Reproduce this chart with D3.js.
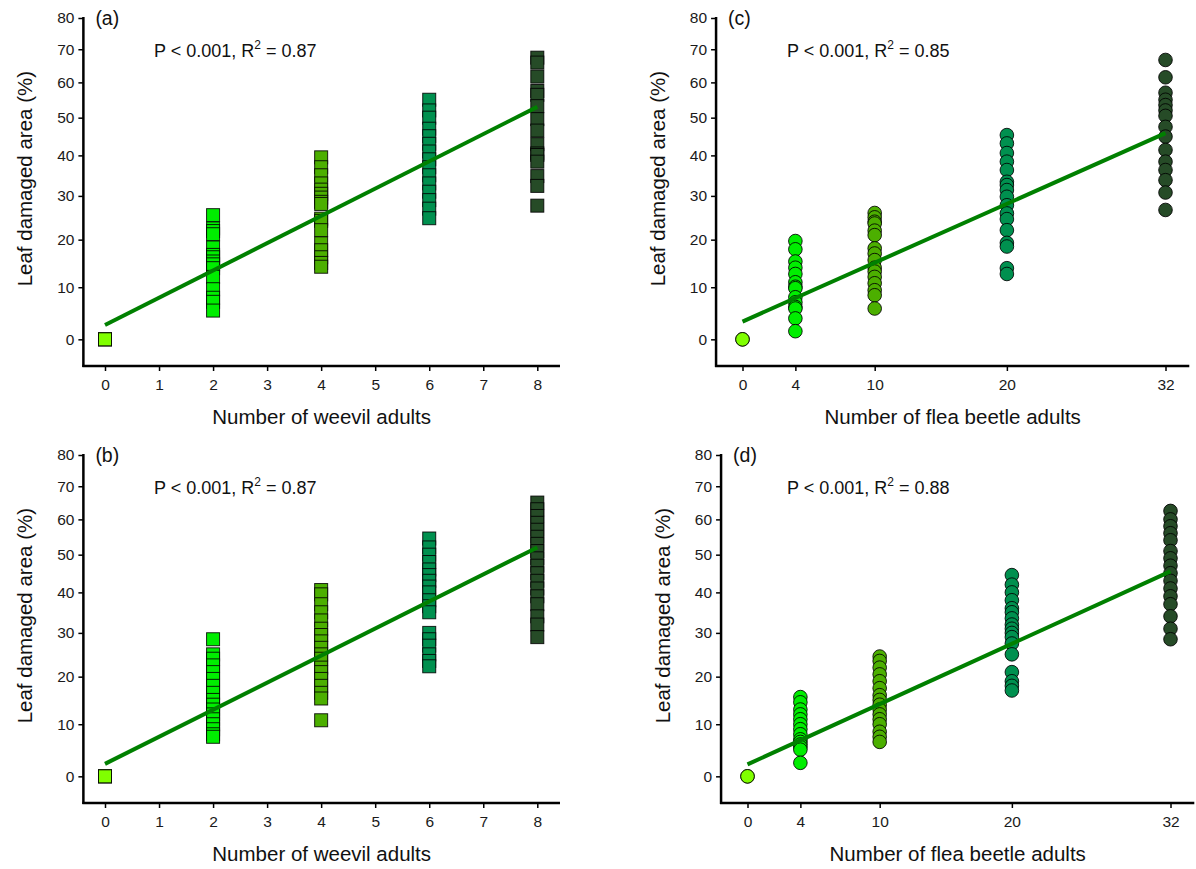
<!DOCTYPE html>
<html>
<head>
<meta charset="utf-8">
<script src="https://cdn.jsdelivr.net/npm/d3@7"></script>
<style>
  body { margin: 0; background: #fff; }
  svg { font-family: "Liberation Sans", Arial, sans-serif; }
</style>
</head>
<body>
<div id="chart"></div>
<script>
// width and height of the whole figure
let svg_width = 1196;
let svg_height = 869;

// ---------------- data ----------------
let weevil_x = [0, 2, 4, 6, 8];
let flea_x = [0, 4, 10, 20, 32];
let y_ticks = [0, 10, 20, 30, 40, 50, 60, 70, 80];

// (a) weevil, leaf damaged area (%)
let a0 = [0, 0, 0];
let a2 = [25.5, 22.5, 21.9, 21.2, 18.3, 16.7, 16.2, 15.3, 14.7, 13.9, 12.1, 9.6, 7.9, 7.1, 5.4];
let a4 = [39.5, 37, 35, 33, 31.5, 30.5, 29.6, 28.6, 28.1, 24.7, 24.2, 22.1, 19.2, 17.7, 16.2, 15.0, 14.2];
let a6 = [55, 52, 50, 47, 45, 43, 41, 39, 37, 35, 33, 31, 29, 27, 24.8];
let a8 = [67.4, 65.9, 61.7, 57.5, 56.4, 53.2, 49.6, 46.5, 42.9, 40.5, 40.1, 38.4, 34.8, 32.4, 27.7];
let a_fit = [2.65, 53.0];

// (b) weevil
let b0 = [0, 0, 0];
let b2 = [28.5, 25, 24, 22.5, 21, 19.5, 18, 16.5, 15, 14, 13, 12, 11, 10, 9, 8, 7.5];
let b4 = [40.6, 39.5, 37, 35, 33, 31, 29.5, 28, 26.5, 25, 24, 22, 21, 19.5, 18, 16.5, 15.3, 10.8];
let b6 = [54.5, 52, 50, 48, 46, 44.5, 43, 41.5, 40, 38, 36.5, 35, 30, 28.5, 27, 25, 23.5, 22.3];
let b8 = [65, 63, 61, 59, 57, 55, 53, 51, 49, 47, 45, 43, 41, 39, 37, 34, 32, 29];
let b_fit = [2.3, 52];

// (c) flea beetle
let c0 = [0, 0];
let c4 = [19.7, 17.9, 15.3, 14, 12.7, 11, 10.1, 9.8, 8, 7, 6.1, 5.8, 3.9, 1.5];
let c10 = [26, 25, 24, 23.6, 22, 21, 18.1, 17, 15.6, 14, 13.2, 12.1, 10.8, 9.4, 8.4, 5.8];
let c20 = [45.3, 43.1, 40.6, 38.4, 36.3, 33.4, 32.6, 31.4, 29.8, 27.8, 25.9, 24.6, 22.1, 19.3, 18.5, 13.9, 12.7];
let c32 = [66.7, 61.5, 57, 55, 53.5, 52, 50.5, 47.5, 44.9, 41.4, 38.4, 36.3, 33.8, 30.8, 26.7];
let c_fit = [3.3, 45.8];

// (d) flea beetle
let d0 = [0, 0];
let d4 = [15.6, 14.5, 13, 12, 11, 10, 9, 8, 7, 6.5, 6, 5.5, 5, 2.5];
let d10 = [24.5, 23.5, 22, 20.5, 19, 17.5, 16, 15, 14, 13, 12, 11, 10, 8.5, 7.5, 6.5];
let d20 = [44.5, 42, 40, 38, 36, 35, 33.5, 32, 31, 30, 29, 27.5, 25, 21, 19, 18, 17];
let d32 = [62.5, 60, 58, 56, 54, 51, 49, 47, 45, 43, 41, 39, 37, 34, 31, 28.5];
let d_fit = [2.2, 45.5];

let group_colors = ['#80ff00', '#00ee00', '#4caf00', '#00904f', '#264b27'];

// ---------------- panels ----------------
let panels = [
  { tag: '(a)', stat: '0.87', xs: weevil_x, groups: [a0, a2, a4, a6, a8], fit: a_fit,
    shape: 'square', xlabel: 'Number of weevil adults',
    left: 83, top: 18, x0: 105, x1: 537.3, xmin: -0.4, xmax: 8.42, xticks: d3.range(0, 9), statX: 154 },
  { tag: '(b)', stat: '0.87', xs: weevil_x, groups: [b0, b2, b4, b6, b8], fit: b_fit,
    shape: 'square', xlabel: 'Number of weevil adults',
    left: 83, top: 455, x0: 105, x1: 537.3, xmin: -0.4, xmax: 8.42, xticks: d3.range(0, 9), statX: 154 },
  { tag: '(c)', stat: '0.85', xs: flea_x, groups: [c0, c4, c10, c20, c32], fit: c_fit,
    shape: 'circle', xlabel: 'Number of flea beetle adults',
    left: 716, top: 18, x0: 742.5, x1: 1165.5, xmin: -2, xmax: 33.8, xticks: flea_x, statX: 787 },
  { tag: '(d)', stat: '0.88', xs: flea_x, groups: [d0, d4, d10, d20, d32], fit: d_fit,
    shape: 'circle', xlabel: 'Number of flea beetle adults',
    left: 721, top: 455, x0: 747.5, x1: 1170.5, xmin: -2, xmax: 33.8, xticks: flea_x, statX: 787 }
];

let svg = d3.select('#chart')
            .append('svg')
            .attr('width', svg_width)
            .attr('height', svg_height);

function drawPanel(p) {
  let g = svg.append('g');
  let bottom = p.top + 348;

  // y is drawn on a log(y + 100) scale, like the original
  let y_scale = d3.scaleSymlog()
                  .constant(100)
                  .domain([-5, 80])
                  .range([bottom, p.top]);

  let x_scale = d3.scaleLinear()
                  .domain([p.xs[0], p.xs[p.xs.length - 1]])
                  .range([p.x0, p.x1]);
  let x_left = x_scale(p.xmin);
  let x_right = x_scale(p.xmax);

  // axes (SigmaPlot style, lines with outward ticks)
  let yAxis = d3.axisLeft(y_scale).tickValues(y_ticks).tickSize(5).tickPadding(4).tickSizeOuter(0);
  let xAxis = d3.axisBottom(x_scale).tickValues(p.xticks).tickSize(5).tickPadding(8).tickSizeOuter(0);

  let ya = g.append('g').attr('transform', 'translate(' + x_left + ',0)').call(yAxis);
  ya.select('.domain').remove();
  ya.append('line')
    .attr('x1', 0).attr('x2', 0)
    .attr('y1', p.top - 1).attr('y2', bottom + 1)
    .attr('stroke', '#000').attr('stroke-width', 2.5);

  let xa = g.append('g').attr('transform', 'translate(0,' + bottom + ')').call(xAxis);
  xa.select('.domain').remove();
  xa.append('line')
    .attr('x1', x_left - 1).attr('x2', x_right)
    .attr('y1', 0).attr('y2', 0)
    .attr('stroke', '#000').attr('stroke-width', 2.5);

  g.selectAll('.tick line').attr('stroke', '#000').attr('stroke-width', 1.5);
  g.selectAll('.tick text').attr('font-size', 15.5).attr('fill', '#1a1a1a')
    .attr('font-family', '"Liberation Sans", Arial, sans-serif');

  // data points, each group drawn from high to low value
  p.groups.forEach(function(vals, gi) {
    let xv = p.xs[gi];
    let sel = g.append('g').selectAll('.pt').data(vals).enter();
    if (p.shape === 'square') {
      sel.append('rect')
         .attr('x', x_scale(xv) - 6.5)
         .attr('y', function(d) { return y_scale(d) - 6.5; })
         .attr('width', 13).attr('height', 13)
         .attr('fill', group_colors[gi])
         .attr('stroke', '#000').attr('stroke-opacity', 0.85).attr('stroke-width', 1);
    } else {
      sel.append('circle')
         .attr('cx', x_scale(xv))
         .attr('cy', function(d) { return y_scale(d); })
         .attr('r', 6.8)
         .attr('fill', group_colors[gi])
         .attr('stroke', '#000').attr('stroke-opacity', 0.85).attr('stroke-width', 1);
    }
  });

  // regression line (straight in the transformed space)
  g.append('line')
   .attr('x1', x_scale(p.xs[0])).attr('y1', y_scale(p.fit[0]))
   .attr('x2', x_scale(p.xs[p.xs.length - 1])).attr('y2', y_scale(p.fit[1]))
   .attr('stroke', '#008000').attr('stroke-width', 4);

  // labels
  g.append('text')
   .attr('x', x_left + 12).attr('y', p.top + 7)
   .attr('font-size', 19.5).attr('fill', '#111').text(p.tag);

  let st = g.append('text')
            .attr('x', p.statX).attr('y', p.top + 38.5)
            .attr('font-size', 18).attr('fill', '#111');
  st.append('tspan').text('P < 0.001, R');
  st.append('tspan').attr('font-size', 12).attr('dy', -8).text('2');
  st.append('tspan').attr('dy', 8).text(' = ' + p.stat);

  g.append('text')
   .attr('x', (x_left + x_right) / 2).attr('y', bottom + 58)
   .attr('text-anchor', 'middle').attr('fill', '#111')
   .attr('font-size', 20.5).text(p.xlabel);

  g.append('text')
   .attr('transform', 'translate(' + (x_left - 51) + ',' + ((p.top + y_scale(0)) / 2) + ') rotate(-90)')
   .attr('text-anchor', 'middle').attr('fill', '#111')
   .attr('font-size', 20.5).text('Leaf damaged area (%)');
}

panels.forEach(drawPanel);
</script>
</body>
</html>
